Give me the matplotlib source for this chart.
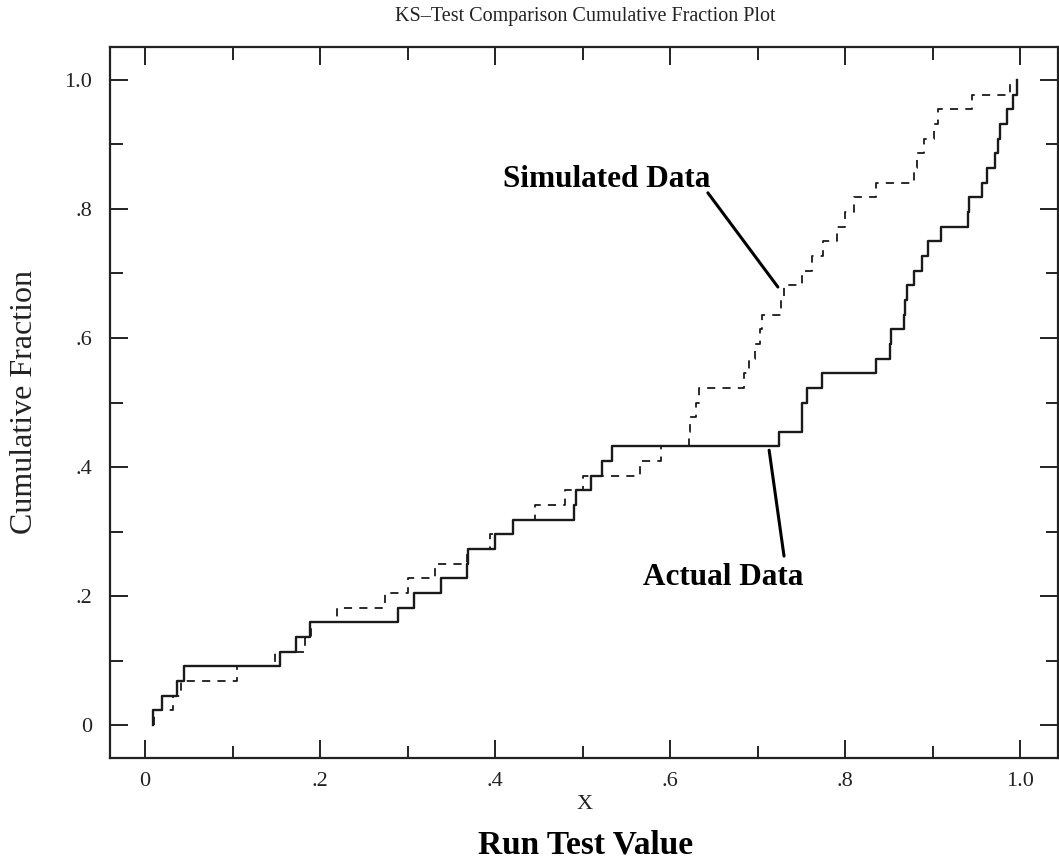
import numpy as np
import matplotlib
matplotlib.use("Agg")
import matplotlib.pyplot as plt
from matplotlib.ticker import MultipleLocator, FixedLocator

plt.rcParams['font.family'] = ['Liberation Serif', 'DejaVu Serif']

actual_x = [0.009, 0.019, 0.037, 0.045, 0.154, 0.173, 0.189, 0.289, 0.307, 0.338,
            0.368, 0.369, 0.400, 0.420, 0.490, 0.492, 0.510, 0.522, 0.533, 0.724,
            0.750, 0.751, 0.756, 0.773, 0.835, 0.851, 0.852, 0.867, 0.868, 0.870,
            0.878, 0.888, 0.895, 0.909, 0.940, 0.941, 0.956, 0.962, 0.971, 0.975,
            0.977, 0.985, 0.992, 0.996]
simulated_x = [0.010, 0.032, 0.041, 0.105, 0.149, 0.183, 0.190, 0.219, 0.274, 0.301,
               0.331, 0.368, 0.394, 0.420, 0.445, 0.480, 0.500, 0.566, 0.590, 0.621,
               0.623, 0.630, 0.633, 0.684, 0.690, 0.697, 0.702, 0.705, 0.726, 0.730,
               0.750, 0.762, 0.775, 0.790, 0.800, 0.810, 0.835, 0.878, 0.882, 0.890,
               0.901, 0.906, 0.945, 0.988]

x_ticks = [0, 0.2, 0.4, 0.6, 0.8, 1.0]
x_tick_labels = ['0', '.2', '.4', '.6', '.8', '1.0']
y_ticks = [0, 0.2, 0.4, 0.6, 0.8, 1.0]
y_tick_labels = ['0', '.2', '.4', '.6', '.8', '1.0']

title = 'KS\u2013Test Comparison Cumulative Fraction Plot'


def ecdf(vals):
    v = np.sort(np.asarray(vals))
    n = len(v)
    xs = np.r_[v[0], v]
    ys = np.r_[0.0, np.arange(1, n + 1) / n]
    return xs, ys


W, H = 1059, 863
fig = plt.figure(figsize=(W / 100, H / 100), dpi=100)
ax = fig.add_axes([110 / W, 1 - 758 / H, (1058 - 110) / W, (758 - 47) / H])

xa, ya = ecdf(actual_x)
xs, ys = ecdf(simulated_x)
ax.step(xa, ya, where='post', color='#1a1a1a', lw=1.7)
ax.step(xs, ys, where='post', color='#1a1a1a', lw=1.3, dashes=(4.5, 4))

ax.set_xlim(-0.04, 1.043)
ax.set_ylim(-0.051, 1.051)

ax.xaxis.set_major_locator(FixedLocator(x_ticks))
ax.yaxis.set_major_locator(FixedLocator(y_ticks))
ax.set_xticklabels(x_tick_labels)
ax.set_yticklabels(y_tick_labels)
ax.xaxis.set_minor_locator(MultipleLocator(0.1))
ax.yaxis.set_minor_locator(MultipleLocator(0.1))
ax.tick_params(which='both', direction='in', top=True, right=True, width=1.4,
               color='#222222', labelsize=16, labelcolor='#222222')
ax.tick_params(axis='x', which='both', pad=10)
ax.tick_params(axis='y', which='both', pad=13)
ax.tick_params(which='major', length=13)
ax.tick_params(which='minor', length=9)
for s in ax.spines.values():
    s.set_linewidth(1.6)
    s.set_color('#222222')

fig.text(585 / W, 1 - 17 / H, title, ha='center', va='center', fontsize=14.5, color='#222222')
fig.text(25 / W, 1 - 402 / H, 'Cumulative Fraction', rotation=90, ha='center', va='center',
         fontsize=23, color='#222222')
fig.text(585 / W, 1 - 804 / H, 'X', ha='center', va='center', fontsize=16, color='#222222')
fig.text(586 / W, 1 - 845 / H, 'Run Test Value', ha='center', va='center', fontsize=24,
         fontweight='bold', color='black')

ax.text(0.527, 0.845, 'Simulated Data', ha='center', va='center', fontsize=22.5,
        fontweight='bold', color='black')
ax.annotate('', xy=(0.723, 0.679), xytext=(0.643, 0.825),
            arrowprops=dict(arrowstyle='-', color='black', lw=2.2, shrinkA=0, shrinkB=0))
ax.text(0.661, 0.228, 'Actual Data', ha='center', va='center', fontsize=22.5,
        fontweight='bold', color='black')
ax.annotate('', xy=(0.713, 0.426), xytext=(0.730, 0.262),
            arrowprops=dict(arrowstyle='-', color='black', lw=2.2, shrinkA=0, shrinkB=0))

fig.savefig('out.png', dpi=100)
